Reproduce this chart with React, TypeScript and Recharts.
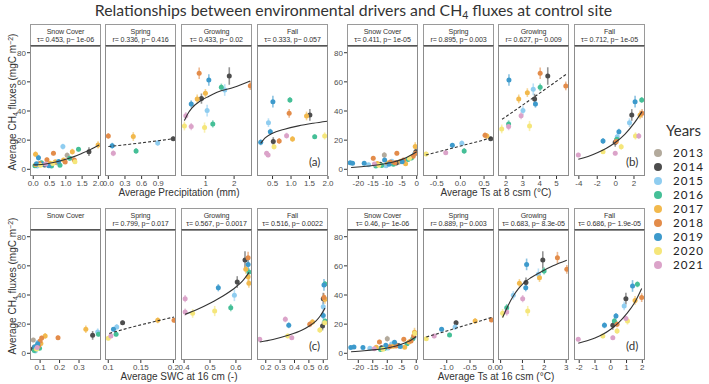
import { ScatterChart, Scatter, XAxis, YAxis, ErrorBar } from 'recharts';

type Pt = [number, number, number, number]; // year, driver value, flux, error
type FitPt = [number, number];

const YEARS = [2013, 2014, 2015, 2016, 2017, 2018, 2019, 2020, 2021];
const YEAR_COLORS = ['#b3aa9c', '#4d4d4d', '#8fcdf0', '#45bf97', '#f2b94d', '#e38c4a', '#3d9acc', '#f5e67a', '#dba3c9'];
const SEASONS = ['Snow Cover', 'Spring', 'Growing', 'Fall'];
const Y_TICKS = [0, 20, 40, 60, 80];
const Y_DOMAIN: [number, number] = [-4.6, 84.6];

// ---- (a) precipitation ----
const precipSnow: Pt[] = [
  [2017, 0.07, 10.3, 2], [2019, 0.16, 8, 2], [2016, 0.05, 2.5, 1], [2017, 0.08, 3.2, 1], [2019, 0.1, 3.8, 1],
  [2015, 0.12, 2.2, 1], [2014, 0.15, 3.4, 1.5], [2018, 0.2, 3.9, 1], [2020, 0.22, 2.8, 1], [2016, 0.25, 4.5, 1.2],
  [2019, 0.3, 3.5, 1], [2014, 0.35, 2.9, 1.2], [2021, 0.38, 3.6, 1], [2018, 0.42, 6.6, 1.5], [2015, 0.45, 3, 1],
  [2019, 0.48, 2.5, 1], [2017, 0.52, 4.2, 1], [2016, 0.56, 2.3, 1], [2018, 0.62, 11, 1.5], [2020, 0.6, 4, 1],
  [2017, 0.68, 5.2, 1.2], [2013, 0.72, 4.5, 1], [2019, 0.78, 5.3, 1.5], [2016, 0.82, 2.8, 1], [2015, 0.91, 15.6, 2],
  [2017, 0.93, 6.4, 1.5], [2018, 0.98, 5, 1], [2013, 1.04, 9.6, 2], [2016, 1.12, 7.5, 1.5], [2017, 1.2, 12.1, 2],
  [2018, 1.26, 6.3, 1.5], [2020, 1.28, 5.2, 1], [2016, 1.39, 13.7, 1.5], [2014, 1.71, 12.1, 3], [2017, 1.99, 16.7, 2.5],
];
const precipSpring: Pt[] = [
  [2018, 0.0, 22.9, 2], [2019, 0.07, 16.2, 2], [2021, 0.09, 11, 2], [2017, 0.45, 22.5, 3],
  [2016, 0.5, 12.6, 2], [2015, 0.89, 18.1, 2], [2014, 1.17, 21, 1.5],
];
const precipGrowing: Pt[] = [
  [2018, 0.77, 65.9, 4], [2019, 1.11, 61.3, 4], [2014, 1.83, 64, 6], [2019, 0.49, 44.8, 2.5], [2017, 0.7, 48.3, 3],
  [2014, 0.85, 48.5, 3.5], [2017, 0.99, 52.1, 3], [2015, 1.05, 40.3, 4], [2016, 1.55, 56.3, 2.5], [2015, 1.67, 54.4, 4],
  [2018, 2.57, 57.4, 3], [2020, 0.25, 29.7, 3], [2021, 0.49, 29.3, 2.5], [2020, 0.96, 28.6, 3.5], [2016, 1.25, 31.1, 2.5],
  [2021, 0.3, 36.8, 2.5],
];
const precipFall: Pt[] = [
  [2019, 0.18, 18.5, 2], [2015, 0.39, 32, 3], [2021, 0.34, 11, 1.5], [2021, 0.38, 9.8, 1.5], [2019, 0.44, 25.8, 2],
  [2019, 0.51, 46.4, 4], [2014, 0.52, 19, 3], [2020, 0.54, 15.5, 2], [2018, 0.68, 19.4, 2], [2016, 0.97, 47.6, 2],
  [2018, 0.95, 38.4, 3], [2021, 0.88, 23.1, 2], [2017, 1.04, 20.8, 2], [2017, 1.42, 36.6, 3], [2014, 1.51, 37.3, 4],
  [2016, 1.64, 22.4, 1.5], [2020, 1.91, 22.9, 2.5],
];
const precipFits: (FitPt[] | null)[] = [
  [[0, 3], [0.25, 3.3], [0.5, 4.2], [0.75, 5.3], [1, 6.9], [1.25, 8.7], [1.5, 11], [1.75, 13.5], [2.02, 16.7]],
  [[0, 15.6], [0.3, 16.8], [0.6, 18.2], [0.9, 19.6], [1.17, 21]],
  [[0.25, 33.4], [0.35, 37.5], [0.51, 42], [0.81, 46.9], [1.1, 50], [1.4, 52.8], [2, 56.3], [2.57, 60.6]],
  [[0.18, 17.8], [0.3, 21.5], [0.5, 24.8], [0.8, 27.3], [1.2, 29.8], [1.6, 31.6], [1.98, 33]],
];
const precipDomains: [number, number][] = [[-0.1, 2.08], [-0.06, 1.22], [0.13, 2.63], [0.08, 2.0]];
const precipTicks = [[0, 0.5, 1, 1.5, 2], [0, 0.3, 0.6, 0.9], [1, 2], [0.5, 1, 1.5, 2]];
const precipTickLabels = [['0.0', '0.5', '1.0', '1.5', '2.0'], ['0.0', '0.3', '0.6', '0.9'], ['1', '2'], ['0.5', '1.0', '1.5', '2.0']];
const precipStats = ['τ= 0.453, p~ 1e-06', 'r= 0.336, p~ 0.416', 'τ= 0.433, p~ 0.02', 'τ= 0.333, p~ 0.057'];
const precipDashed = [false, true, false, false];

// ---- (b) soil temperature at 8 cm ----
const ts8Snow: Pt[] = [
  [2019, -22.8, 4.5, 1], [2019, -22, 4.1, 1], [2019, -18, 4.1, 1], [2015, -16.5, 3.2, 1], [2018, -14.9, 7.5, 1.5],
  [2021, -14.5, 3.6, 1], [2016, -14, 2.3, 1], [2017, -13.5, 3.9, 1], [2020, -13, 2.8, 1], [2014, -12.5, 3.4, 1.5],
  [2016, -12, 2.6, 1], [2013, -11.1, 9.8, 2], [2019, -11, 6.4, 1.5], [2015, -10.5, 2.5, 1], [2017, -10, 4.4, 1],
  [2019, -9.5, 3.5, 1], [2018, -9, 5, 1], [2015, -8.5, 5.5, 1.2], [2016, -8, 3.5, 1], [2018, -7.5, 4.5, 1],
  [2014, -7, 4.4, 1.5], [2018, -6.8, 11, 1.5], [2013, -6.2, 4.8, 1], [2017, -5.5, 5.5, 1.5], [2019, -5, 5.2, 1],
  [2018, -4.5, 6.3, 1], [2017, -3.8, 3.8, 1], [2016, -3, 6.8, 1], [2020, -2.5, 7.5, 1.5], [2016, -1.8, 7.8, 1.5],
  [2018, -1.2, 9, 1.5], [2015, -0.8, 10.5, 2], [2017, -0.5, 15.6, 3], [2014, -0.3, 12.1, 3], [2018, -0.4, 11, 2],
];
const ts8Spring: Pt[] = [
  [2020, -0.725, 10.5, 1.5], [2021, -0.31, 11.4, 1.5], [2019, -0.17, 16.5, 1.5], [2015, 0.03, 17.8, 2],
  [2016, 0.08, 12.6, 2], [2018, 0.52, 23.3, 2], [2017, 0.56, 22.9, 2], [2014, 0.64, 21, 1.5],
];
const ts8Growing: Pt[] = [
  [2019, 2.18, 61.3, 4], [2018, 4.03, 65.9, 4], [2014, 4.48, 64, 6], [2018, 5.55, 57.2, 3], [2015, 3.62, 54.9, 4],
  [2016, 4.03, 56.3, 2.5], [2017, 3.27, 52.6, 3], [2017, 2.76, 48.3, 3], [2014, 3.7, 48.3, 3.5], [2019, 3.75, 44.8, 2.5],
  [2015, 3.01, 40.3, 3], [2021, 2.9, 36.8, 2.5], [2016, 2.16, 31.1, 2.5], [2021, 2.16, 29.3, 2.5], [2020, 1.75, 27.7, 3],
  [2020, 3.4, 29.7, 3.5],
];
const ts8Fall: Pt[] = [
  [2021, -4.06, 9.8, 1.5], [2019, -1.37, 19.4, 2], [2020, -1.37, 12.1, 1.5], [2021, -0.04, 11, 1.5], [2014, -0.04, 18.5, 3],
  [2018, 0.07, 19, 2], [2016, 0.14, 20.6, 2], [2015, 0.18, 22.4, 2], [2019, 0.36, 25.8, 2], [2020, 0.61, 15.5, 2],
  [2021, 2.52, 22.9, 2], [2020, 2.16, 22.9, 2.5], [2014, 1.76, 37.3, 4], [2015, 1.51, 32, 3], [2019, 2.12, 46.4, 4],
  [2016, 2.84, 47.6, 2], [2018, 2.88, 38.4, 3], [2017, 2.66, 37.3, 3],
];
const ts8Fits: (FitPt[] | null)[] = [
  [[-22.5, 1.2], [-19, 1.8], [-15, 2.6], [-11, 3.8], [-8, 5], [-5, 6.8], [-3, 8.6], [-1, 10.8], [0, 12]],
  [[-0.73, 9.8], [-0.3, 13.4], [0.1, 16.8], [0.4, 19.3], [0.66, 21.8]],
  [[1.77, 34.3], [3.7, 49.8], [5.6, 65.4]],
  [[-4.06, 6.9], [-3, 8.8], [-2, 11.4], [-1, 14.5], [0, 18.6], [1, 24], [2, 31.5], [2.88, 39.6]],
];
const ts8Domains: [number, number][] = [[-23.9, 0.45], [-0.79, 0.71], [1.53, 5.74], [-4.53, 3.2]];
const ts8Ticks = [[-20, -15, -10, -5, 0], [-0.5, 0, 0.5], [2, 3, 4, 5], [-4, -2, 0, 2]];
const ts8TickLabels = [['-20', '-15', '-10', '-5', '0'], ['-0.5', '0.0', '0.5'], ['2', '3', '4', '5'], ['-4', '-2', '0', '2']];
const ts8Stats = ['τ= 0.411, p~ 1e-05', 'r= 0.895, p~ 0.003', 'r= 0.627, p~ 0.009', 'τ= 0.712, p~ 1e-05'];
const ts8Dashed = [false, true, true, false];

// ---- (c) soil water content at 16 cm ----
const swcSnow: Pt[] = [
  [2014, 0.065, 3.2, 1.5], [2014, 0.068, 2.8, 1.5], [2014, 0.07, 4, 1.5], [2013, 0.065, 9.1, 1.5], [2016, 0.07, 2, 1],
  [2019, 0.072, 4.5, 1], [2015, 0.075, 1.5, 1], [2017, 0.078, 3.5, 1], [2018, 0.08, 4.2, 1], [2020, 0.082, 3, 1],
  [2016, 0.085, 5.5, 1], [2019, 0.088, 6.5, 1.2], [2015, 0.09, 7.5, 1.5], [2018, 0.092, 5, 1], [2017, 0.095, 6.2, 1.2],
  [2021, 0.085, 4, 1], [2016, 0.097, 3.5, 1], [2018, 0.1, 8.5, 1.5], [2017, 0.104, 6.7, 1.5], [2018, 0.108, 10.5, 1.5],
  [2017, 0.126, 11.9, 2], [2018, 0.192, 10.7, 1.5], [2017, 0.335, 16.5, 2.5], [2014, 0.37, 12.3, 3],
  [2015, 0.396, 14.6, 2.5], [2016, 0.4, 13, 1.5],
];
const swcSpring: Pt[] = [
  [2020, 0.1, 10.3, 1.5], [2021, 0.104, 11.9, 1.5], [2019, 0.108, 16.5, 1.5], [2015, 0.113, 18.1, 2],
  [2016, 0.112, 13, 1.5], [2014, 0.122, 21, 1.5], [2017, 0.176, 22.6, 2], [2018, 0.201, 22.6, 1.5],
];
const swcGrowing: Pt[] = [
  [2021, 0.404, 37.5, 2.5], [2021, 0.404, 28.3, 2.5], [2020, 0.433, 27.4, 3], [2019, 0.532, 45, 2.5], [2020, 0.518, 29, 3.5],
  [2016, 0.58, 31.3, 2.5], [2015, 0.594, 39.8, 4], [2014, 0.605, 48.9, 4], [2014, 0.635, 64, 6], [2018, 0.647, 65.6, 4],
  [2019, 0.647, 61, 4], [2017, 0.638, 57.6, 3], [2016, 0.65, 55.8, 2.5], [2017, 0.647, 52.6, 3], [2017, 0.65, 48, 3],
];
const swcFall: Pt[] = [
  [2021, 0.158, 9.6, 1.5], [2021, 0.336, 23.3, 2], [2019, 0.36, 19.2, 2], [2020, 0.353, 11.9, 1.5], [2021, 0.381, 10.7, 1.5],
  [2018, 0.506, 19.9, 2], [2017, 0.525, 21.5, 2], [2020, 0.576, 16, 2], [2014, 0.595, 18.7, 3], [2019, 0.6, 26, 2.5],
  [2015, 0.6, 32, 3], [2019, 0.605, 46.9, 4], [2016, 0.612, 47.6, 2], [2018, 0.605, 38.2, 3], [2017, 0.612, 37, 3],
  [2014, 0.6, 37.5, 4], [2016, 0.612, 22.2, 1.5], [2020, 0.61, 21, 2],
];
const swcFits: (FitPt[] | null)[] = [
  null,
  [[0.1015, 13.6], [0.125, 16.6], [0.15, 19.5], [0.175, 22.2], [0.201, 24.9]],
  [[0.404, 26.7], [0.45, 30], [0.5, 34.3], [0.55, 39.3], [0.6, 45.5], [0.625, 49.5], [0.651, 55.5]],
  [[0.158, 7.8], [0.25, 9.5], [0.35, 12.2], [0.45, 15.8], [0.5, 18.6], [0.55, 22.3], [0.58, 25.8], [0.612, 31]],
];
const swcDomains: [number, number][] = [[0.048, 0.413], [0.095, 0.204], [0.388, 0.662], [0.139, 0.633]];
const swcTicks = [[0.1, 0.2, 0.3], [0.1, 0.15, 0.2], [0.4, 0.5, 0.6], [0.2, 0.3, 0.4, 0.5, 0.6]];
const swcTickLabels = [['0.1', '0.2', '0.3'], ['0.1', '0.15', '0.2'], ['0.4', '0.5', '0.6'], ['0.2', '0.3', '0.4', '0.5', '0.6']];
const swcStats = ['', 'r= 0.799, p~ 0.017', 'τ= 0.567, p~ 0.0017', 'τ= 0.516, p~ 0.0022'];
const swcDashed = [false, true, false, false];

// ---- (d) soil temperature at 16 cm ----
const ts16Snow: Pt[] = [
  [2019, -22.6, 3.9, 1], [2019, -21.5, 4.3, 1], [2019, -18.4, 3.9, 1], [2015, -16, 3.5, 1], [2021, -14.5, 3.2, 1],
  [2017, -13.8, 4.2, 1], [2018, -12.7, 7.8, 1.5], [2016, -12.3, 2.6, 1], [2014, -12, 3.8, 1.5], [2020, -11.5, 2.8, 1],
  [2016, -11, 3.3, 1], [2019, -10.5, 5.5, 1.2], [2013, -10, 10, 2], [2015, -9.8, 3.6, 1], [2018, -9.2, 4.5, 1],
  [2015, -8.5, 6.3, 1.2], [2017, -8, 4.8, 1], [2019, -7.5, 7.5, 1.2], [2018, -7, 5, 1], [2013, -6.5, 5.6, 1],
  [2014, -6, 5.2, 1.5], [2019, -5.5, 4.6, 1], [2018, -4.3, 9.6, 1.5], [2017, -4, 4.2, 1], [2016, -3.2, 6.5, 1],
  [2017, -2.5, 7.8, 1.5], [2018, -1.8, 8.5, 1.5], [2016, -1.2, 10, 1.5], [2015, -0.8, 11, 2], [2018, -0.9, 11.9, 2],
  [2017, -0.6, 14.5, 3], [2020, -0.5, 13.5, 2],
];
const ts16Spring: Pt[] = [
  [2020, -1.44, 10, 1.5], [2021, -1.27, 11.9, 1.5], [2019, -1.11, 16.5, 1.5], [2016, -0.94, 12.6, 1.5],
  [2015, -0.82, 18.1, 2], [2014, -0.8, 21, 1.5], [2017, -0.39, 22.2, 2], [2018, -0.04, 22.9, 1.5],
];
const ts16Growing: Pt[] = [
  [2020, 0.09, 27.4, 3], [2021, 0.28, 28.3, 2.5], [2016, 0.28, 31.3, 2.5], [2015, 0.58, 39.8, 3], [2017, 0.86, 48, 3],
  [2019, 1.19, 61, 4], [2014, 1.16, 48.5, 3.5], [2019, 1.15, 45, 2.5], [2021, 1.01, 37.5, 2.5], [2020, 1.24, 29, 3.5],
  [2015, 1.73, 54.2, 4], [2017, 1.78, 51.9, 3], [2014, 1.93, 64, 6], [2016, 1.99, 56.5, 2.5], [2018, 2.6, 65.6, 4],
  [2018, 3.03, 57.6, 3],
];
const ts16Fall: Pt[] = [
  [2021, -2.06, 9.6, 1.5], [2020, -0.5, 11.9, 1.5], [2019, -0.4, 19.2, 2], [2021, 0.13, 10.7, 1.5], [2014, 0.13, 19.2, 3],
  [2016, 0.23, 22.2, 2], [2018, 0.4, 19.9, 2], [2020, 0.4, 15.3, 2], [2019, 0.33, 25.6, 2], [2015, 0.85, 32.5, 3],
  [2014, 0.96, 37.5, 4], [2021, 0.96, 23.8, 2], [2020, 1.06, 22.2, 2.5], [2019, 1.38, 46.2, 4], [2016, 1.69, 47.3, 2],
  [2017, 1.54, 36.3, 3], [2018, 1.96, 38.2, 3],
];
const ts16Fits: (FitPt[] | null)[] = [
  [[-22.5, 1.1], [-18, 1.7], [-14, 2.5], [-10, 3.6], [-7, 5], [-4, 7], [-2, 8.8], [0, 11.5]],
  [[-1.44, 11.2], [-1, 15.3], [-0.6, 19.2], [-0.3, 22], [-0.04, 24.6]],
  [[0.09, 24.5], [0.3, 31.5], [0.58, 39.3], [0.8, 44], [1.04, 48], [1.4, 52], [1.8, 55.5], [2.4, 60], [3.03, 63.8]],
  [[-2.06, 6.9], [-1.5, 8.6], [-1, 10.5], [-0.5, 13], [0, 16.5], [0.5, 21], [1, 27], [1.5, 34.5], [1.96, 44.5]],
];
const ts16Domains: [number, number][] = [[-23.9, 0.6], [-1.51, 0.015], [-0.12, 3.13], [-2.33, 2.17]];
const ts16Ticks = [[-20, -15, -10, -5, 0], [-1, -0.5, 0], [0, 1, 2, 3], [-2, -1, 0, 1, 2]];
const ts16TickLabels = [['-20', '-15', '-10', '-5', '0'], ['-1.0', '-0.5', '0.0'], ['0', '1', '2', '3'], ['-2', '-1', '0', '1', '2']];
const ts16Stats = ['τ= 0.46, p~ 1e-06', 'r= 0.889, p~ 0.003', 'τ= 0.683, p~ 8.3e-05', 'τ= 0.686, p~ 1.9e-05'];
const ts16Dashed = [false, true, false, false];

// layout
const STRIP_H = 22;
const PLOT_H = 130;
const FACET_W = 71;
const X_AXIS_H = 16;
const Y_AXIS_W = 22;
const PAD = 12;
const ROW_TOP = [24, 208];
const COL_LEFT = [[30, 105, 181, 257], [347, 423, 498, 574]];

const AXIS_FONT = '"Liberation Sans", Arial, sans-serif';
const TITLE_FONT = 'Lato, "Open Sans", sans-serif';

interface PanelDef {
  tag: string;
  row: number;
  col: number;
  xTitle: string;
  points: Pt[][];
  fits: (FitPt[] | null)[];
  domains: [number, number][];
  ticks: number[][];
  tickLabels: string[][];
  stats: string[];
  dashed: boolean[];
}

const PANELS: PanelDef[] = [
  { tag: '(a)', row: 0, col: 0, xTitle: 'Average Precipitation (mm)', points: [precipSnow, precipSpring, precipGrowing, precipFall], fits: precipFits, domains: precipDomains, ticks: precipTicks, tickLabels: precipTickLabels, stats: precipStats, dashed: precipDashed },
  { tag: '(b)', row: 0, col: 1, xTitle: 'Average Ts at 8 csm (°C)', points: [ts8Snow, ts8Spring, ts8Growing, ts8Fall], fits: ts8Fits, domains: ts8Domains, ticks: ts8Ticks, tickLabels: ts8TickLabels, stats: ts8Stats, dashed: ts8Dashed },
  { tag: '(c)', row: 1, col: 0, xTitle: 'Average SWC at 16 cm (-)', points: [swcSnow, swcSpring, swcGrowing, swcFall], fits: swcFits, domains: swcDomains, ticks: swcTicks, tickLabels: swcTickLabels, stats: swcStats, dashed: swcDashed },
  { tag: '(d)', row: 1, col: 1, xTitle: 'Average Ts at 16 csm (°C)', points: [ts16Snow, ts16Spring, ts16Growing, ts16Fall], fits: ts16Fits, domains: ts16Domains, ticks: ts16Ticks, tickLabels: ts16TickLabels, stats: ts16Stats, dashed: ts16Dashed },
];

interface FacetProps {
  left: number;
  top: number;
  season: string;
  stat: string;
  points: Pt[];
  fit: FitPt[] | null;
  dashed: boolean;
  domain: [number, number];
  ticks: number[];
  tickLabels: string[];
  showY: boolean;
}

function Facet({ left, top, season, stat, points, fit, dashed, domain, ticks, tickLabels, showY }: FacetProps) {
  const yw = showY ? Y_AXIS_W : 0;
  const groups = YEARS.map((yr, i) => ({
    yr,
    color: YEAR_COLORS[i],
    pts: points.filter((p) => p[0] === yr).map((p) => ({ x: p[1], y: p[2], err: p[3] })),
  })).filter((g) => g.pts.length > 0);
  const fitData = fit ? fit.map(([x, y]) => ({ x, y })) : null;

  return (
    <>
      <div
        style={{
          position: 'absolute', left, top, width: FACET_W, height: STRIP_H, boxSizing: 'border-box',
          border: '1px solid #9a9a9a', borderBottom: '1.5px solid #555', background: '#fff',
          fontFamily: AXIS_FONT, fontSize: 7.1, color: '#333', textAlign: 'center', lineHeight: '8px',
          paddingTop: 2.5, whiteSpace: 'nowrap', letterSpacing: -0.1,
        }}
      >
        <div>{season}</div>
        <div>{stat}</div>
      </div>
      <div style={{ position: 'absolute', left: left - yw - PAD, top: top + STRIP_H }}>
        <ScatterChart
          width={FACET_W + yw + PAD * 2}
          height={PLOT_H + X_AXIS_H}
          margin={{ top: 0, right: PAD, bottom: 0, left: PAD }}
        >
          <XAxis
            type="number"
            dataKey="x"
            domain={domain}
            ticks={ticks}
            interval={0}
            allowDataOverflow
            height={X_AXIS_H}
            axisLine={false}
            tickSize={3}
            tickMargin={1}
            tickLine={{ stroke: '#333' }}
            tick={{ fontSize: 8, fill: '#4d4d4d', fontFamily: AXIS_FONT }}
            tickFormatter={(_v: number, i: number) => tickLabels[i]}
          />
          <YAxis
            type="number"
            dataKey="y"
            domain={Y_DOMAIN}
            ticks={Y_TICKS}
            interval={0}
            allowDataOverflow
            hide={!showY}
            width={yw}
            axisLine={false}
            tickSize={3}
            tickMargin={1}
            tickLine={{ stroke: '#333' }}
            tick={{ fontSize: 8, fill: '#4d4d4d', fontFamily: AXIS_FONT }}
          />
          {groups.map((g) => (
            <Scatter
              key={g.yr}
              data={g.pts}
              isAnimationActive={false}
              shape={(p: any) => <circle cx={p.cx} cy={p.cy} r={2.5} fill={g.color} />}
            >
              <ErrorBar dataKey="err" direction="y" width={0} stroke={g.color + '99'} strokeWidth={1.6} />
            </Scatter>
          ))}
          {fitData && (
            <Scatter
              data={fitData}
              isAnimationActive={false}
              line={{ stroke: '#333', strokeWidth: 1.1, strokeDasharray: dashed ? '3 2' : undefined }}
              lineJointType="monotoneX"
              shape={() => <g />}
            />
          )}
        </ScatterChart>
      </div>
      <div
        style={{
          position: 'absolute', left, top: top + STRIP_H, width: FACET_W, height: PLOT_H,
          boxSizing: 'border-box', border: '1px solid #8c8c8c', pointerEvents: 'none',
        }}
      />
    </>
  );
}

function Panel({ def }: { def: PanelDef }) {
  const top = ROW_TOP[def.row];
  const lefts = COL_LEFT[def.col];
  const xCenter = (lefts[0] + lefts[3] + FACET_W) / 2;
  return (
    <>
      {SEASONS.map((s, i) => (
        <Facet
          key={s}
          left={lefts[i]}
          top={top}
          season={s}
          stat={def.stats[i]}
          points={def.points[i]}
          fit={def.fits[i]}
          dashed={def.dashed[i]}
          domain={def.domains[i]}
          ticks={def.ticks[i]}
          tickLabels={def.tickLabels[i]}
          showY={i === 0}
        />
      ))}
      <div
        style={{
          position: 'absolute', left: xCenter - 100, width: 200, top: top + STRIP_H + PLOT_H + 11,
          textAlign: 'center', fontFamily: AXIS_FONT, fontSize: 10, lineHeight: '11px', color: '#333',
        }}
      >
        {def.xTitle}
      </div>
      <div
        style={{
          position: 'absolute', left: lefts[3] + FACET_W - 19, top: top + STRIP_H + PLOT_H - 21,
          fontFamily: TITLE_FONT, fontSize: 11.5, color: '#333',
        }}
      >
        {def.tag}
      </div>
    </>
  );
}

export default function App() {
  return (
    <div style={{ position: 'absolute', left: 0, top: 0, width: 709, height: 384, background: '#fff', overflow: 'hidden' }}>
      <div
        style={{
          position: 'absolute', left: 0, top: 0, width: 709, textAlign: 'center',
          fontFamily: TITLE_FONT, fontSize: 15.8, color: '#333', lineHeight: '20px', transform: 'translateX(-1px)',
        }}
      >
        Relationships between environmental drivers and CH
        <span style={{ fontSize: 10.5, verticalAlign: '-0.3em' }}>4</span> fluxes at control site
      </div>
      {[0, 1].map((r) => (
        <div
          key={r}
          style={{
            position: 'absolute', left: 11 - 90, top: (r === 0 ? 102 : 286) - 7, width: 180, height: 14,
            transform: 'rotate(-90deg)', textAlign: 'center', fontFamily: AXIS_FONT, fontSize: 10,
            color: '#333', lineHeight: '14px', whiteSpace: 'nowrap',
          }}
        >
          Average CH<span style={{ fontSize: 7, verticalAlign: '-0.25em' }}>4</span> fluxes (mgC m
          <span style={{ fontSize: 7, verticalAlign: '0.45em' }}>−2</span>)
        </div>
      ))}
      {PANELS.map((p) => (
        <Panel key={p.tag} def={p} />
      ))}
      <div style={{ position: 'absolute', left: 666, top: 121, fontFamily: TITLE_FONT, fontSize: 15, lineHeight: '18px', color: '#333' }}>
        Years
      </div>
      {YEARS.map((yr, i) => (
        <div key={yr} style={{ position: 'absolute', left: 654, top: 146 + i * 14, height: 14, display: 'flex', alignItems: 'center' }}>
          <span style={{ width: 8, height: 8, borderRadius: 4, background: YEAR_COLORS[i], display: 'inline-block' }} />
          <span style={{ marginLeft: 11, fontFamily: TITLE_FONT, fontSize: 11.6, letterSpacing: 1, color: '#222', lineHeight: '14px' }}>{yr}</span>
        </div>
      ))}
    </div>
  );
}
